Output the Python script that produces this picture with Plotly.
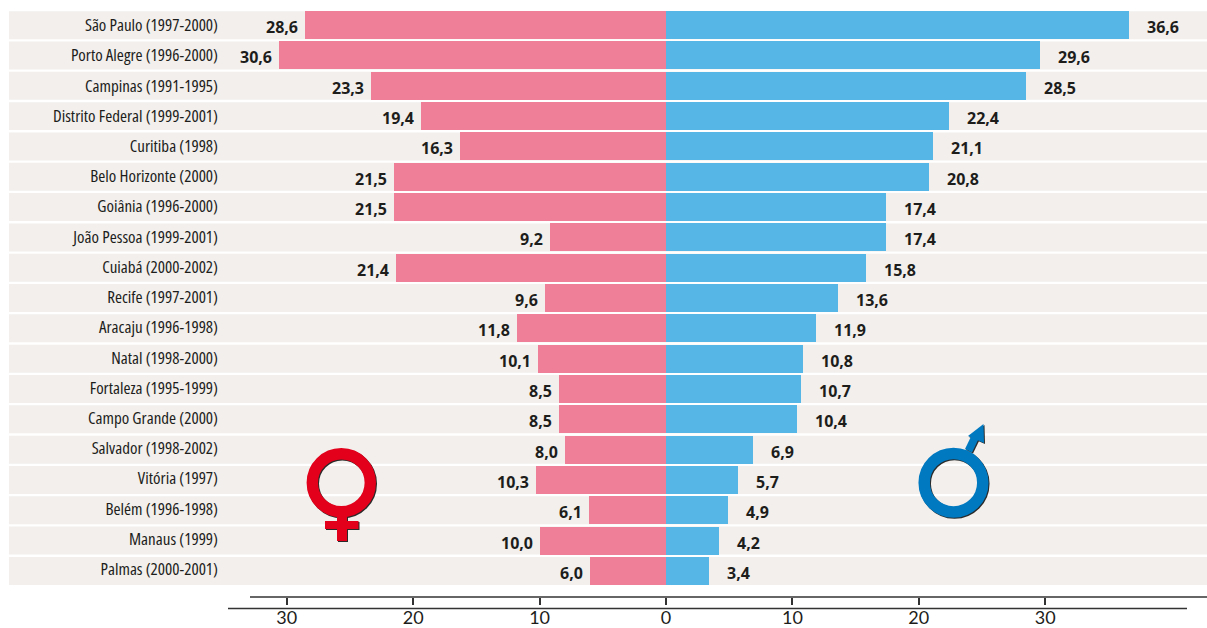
import plotly.graph_objects as go

CITIES = ["São Paulo (1997-2000)", "Porto Alegre (1996-2000)", "Campinas (1991-1995)",
          "Distrito Federal (1999-2001)", "Curitiba (1998)", "Belo Horizonte (2000)",
          "Goiânia (1996-2000)", "João Pessoa (1999-2001)", "Cuiabá (2000-2002)",
          "Recife (1997-2001)", "Aracaju (1996-1998)", "Natal (1998-2000)",
          "Fortaleza (1995-1999)", "Campo Grande (2000)", "Salvador (1998-2002)",
          "Vitória (1997)", "Belém (1996-1998)", "Manaus (1999)", "Palmas (2000-2001)"]
FEMALE = [28.6, 30.6, 23.3, 19.4, 16.3, 21.5, 21.5, 9.2, 21.4, 9.6, 11.8, 10.1, 8.5, 8.5, 8.0, 10.3, 6.1, 10.0, 6.0]
MALE = [36.6, 29.6, 28.5, 22.4, 21.1, 20.8, 17.4, 17.4, 15.8, 13.6, 11.9, 10.8, 10.7, 10.4, 6.9, 5.7, 4.9, 4.2, 3.4]
TICK_VALUES = [-30, -20, -10, 0, 10, 20, 30]
TICK_LABELS = ["30", "20", "10", "0", "10", "20", "30"]

W, H = 1207, 628
L, R, T, B = 9, 0, 10, 31
PLOT_W, PLOT_H = W - L - R, H - T - B
PX_PER_UNIT = 12.64
ZERO_PX = 666.0
LABEL_PITCH = 30.22
PINK, BLUE, BAND = "#ef7f99", "#56b7e6", "#f2efec"
INK = "#1d1d1b"
RED, DEEP = "#e2001a", "#0079c1"
SHADOW = "#2a2a2a"

def fx(px):
    return (px - L) / PLOT_W

def fy(py):
    return 1 - (py - T) / PLOT_H

def dx(px):
    return (px - ZERO_PX) / PX_PER_UNIT

rows = list(range(len(CITIES)))
fig = go.Figure()
fig.add_bar(y=rows, x=[-v for v in FEMALE], orientation="h", width=0.923,
            marker=dict(color=PINK, line_width=0), showlegend=False)
fig.add_bar(y=rows, x=MALE, orientation="h", width=0.923,
            marker=dict(color=BLUE, line_width=0), showlegend=False)
# carries the city labels on their own slightly tighter axis
fig.add_scatter(x=[0] * len(rows), y=rows, yaxis="y2", mode="markers",
                marker=dict(opacity=0, size=1), hoverinfo="skip", showlegend=False)

shapes = []
for r in rows:
    shapes.append(dict(type="rect", xref="paper", yref="y", x0=0, x1=1, y0=r - 0.4615, y1=r + 0.4615,
                       fillcolor=BAND, line_width=0, layer="below"))

def ring(cx, cy, r, width, color):
    return dict(type="circle", xref="paper", yref="paper",
                x0=fx(cx - r), x1=fx(cx + r), y0=fy(cy + r), y1=fy(cy - r),
                line=dict(color=color, width=width), fillcolor="rgba(0,0,0,0)")

def poly(points, color):
    path = "M " + " L ".join(f"{fx(x):.5f} {fy(y):.5f}" for x, y in points) + " Z"
    return dict(type="path", xref="paper", yref="paper", path=path, fillcolor=color, line_width=0)

venus_stem = [(337, 514), (347, 514), (347, 521), (358.5, 521), (358.5, 529), (347, 529), (347, 541), (337, 541), (337, 529), (325, 529), (325, 521), (337, 521)]
mars_stem = [(965, 449), (972, 452.5), (979.5, 437), (972.5, 433.5)]
mars_head = [(983.5, 424), (968, 436), (984, 443)]
for off, cf, cm in ((1.0, SHADOW, SHADOW), (0, RED, DEEP)):
    shapes.append(ring(341.3 + off, 482.7 + off, 29, 11.4, cf))
    shapes.append(poly([(x + off, y + off) for x, y in venus_stem], cf))
    shapes.append(poly([(x + off, y + off) for x, y in mars_stem], cm))
    shapes.append(poly([(x + off, y + off) for x, y in mars_head], cm))
    shapes.append(ring(953.5 + off, 482.7 + off, 29.3, 11.5, cm))

AXIS = "#333333"
shapes.append(dict(type="line", xref="x", yref="paper", x0=dx(250), x1=dx(1207), y0=0, y1=0,
                   line=dict(color=AXIS, width=1.6)))
shapes.append(dict(type="line", xref="x", yref="paper", x0=dx(228), x1=dx(1187), y0=fy(608.5), y1=fy(608.5),
                   line=dict(color=AXIS, width=1.6)))

annotations = []
fmt = lambda v: f"{v:.1f}".replace(".", ",")
for r, (f, m) in enumerate(zip(FEMALE, MALE)):
    annotations.append(dict(x=-f, y=r, xref="x", yref="y", text=fmt(f), showarrow=False,
                            xanchor="right", xshift=-5, yshift=-2,
                            font=dict(family="Open Sans", size=16, color=INK, weight=700)))
    annotations.append(dict(x=m, y=r, xref="x", yref="y", text=fmt(m), showarrow=False,
                            xanchor="left", xshift=16, yshift=-2,
                            font=dict(family="Open Sans", size=16, color=INK, weight=700)))

label_top = -0.5 * 30.33 / LABEL_PITCH
label_bottom = label_top + PLOT_H / LABEL_PITCH

fig.update_layout(
    width=W, height=H, autosize=False,
    margin=dict(l=L, r=R, t=T, b=B, pad=0, autoexpand=False),
    paper_bgcolor="white", plot_bgcolor="white",
    barmode="overlay", bargap=0, showlegend=False,
    shapes=shapes, annotations=annotations,
    xaxis=dict(range=[dx(L), dx(W)], tickmode="array", tickvals=TICK_VALUES, ticktext=TICK_LABELS,
               automargin=False, showgrid=False, zeroline=False, showline=False, ticks="outside", ticklen=7, tickwidth=1.6,
               ticklabelstandoff=-3,
               tickcolor=AXIS, tickfont=dict(family="Lato", size=18, color=INK), fixedrange=True),
    yaxis=dict(range=[18.86, -0.5], automargin=False, showticklabels=False, ticks="",
               showgrid=False, zeroline=False, showline=False, fixedrange=True),
    yaxis2=dict(range=[label_bottom, label_top], overlaying="y", tickmode="array", tickvals=rows, ticktext=CITIES,
                automargin=False, anchor="free", position=fx(218), side="left", ticks="", ticklen=0,
                showgrid=False, zeroline=False, showline=False,
                tickfont=dict(family="Open Sans", size=17, color=INK), fixedrange=True),
)
fig.write_html("out.html", config=dict(displayModeBar=False),
               post_script="document.body.style.margin='0';var s=document.createElement('style');s.textContent='.ytick text,.y2tick text{font-stretch:75%}';document.head.appendChild(s);")
